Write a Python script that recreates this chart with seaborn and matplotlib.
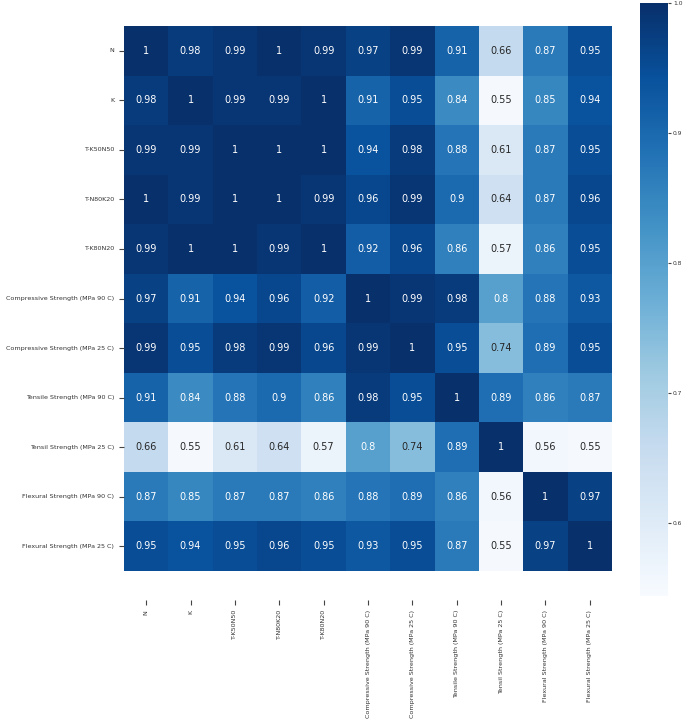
import numpy as np
import pandas as pd
import matplotlib
matplotlib.use('Agg')
import matplotlib.pyplot as plt
import seaborn as sns

labels = ['N', 'K', 'T-K50N50', 'T-N80K20', 'T-K80N20',
          'Compressive Strength (MPa 90 C)', 'Compressive Strength (MPa 25 C)',
          'Tensile Strength (MPa 90 C)', 'Tensil Strength (MPa 25 C)',
          'Flexural Strength (MPa 90 C)', 'Flexural Strength (MPa 25 C)']

row_n = [1, 0.98, 0.99, 1, 0.99, 0.97, 0.99, 0.91, 0.66, 0.87, 0.95]
row_k = [0.98, 1, 0.99, 0.99, 1, 0.91, 0.95, 0.84, 0.55, 0.85, 0.94]
row_k50n50 = [0.99, 0.99, 1, 1, 1, 0.94, 0.98, 0.88, 0.61, 0.87, 0.95]
row_n80k20 = [1, 0.99, 1, 1, 0.99, 0.96, 0.99, 0.9, 0.64, 0.87, 0.96]
row_k80n20 = [0.99, 1, 1, 0.99, 1, 0.92, 0.96, 0.86, 0.57, 0.86, 0.95]
row_cs90 = [0.97, 0.91, 0.94, 0.96, 0.92, 1, 0.99, 0.98, 0.8, 0.88, 0.93]
row_cs25 = [0.99, 0.95, 0.98, 0.99, 0.96, 0.99, 1, 0.95, 0.74, 0.89, 0.95]
row_ts90 = [0.91, 0.84, 0.88, 0.9, 0.86, 0.98, 0.95, 1, 0.89, 0.86, 0.87]
row_ts25 = [0.66, 0.55, 0.61, 0.64, 0.57, 0.8, 0.74, 0.89, 1, 0.56, 0.55]
row_fs90 = [0.87, 0.85, 0.87, 0.87, 0.86, 0.88, 0.89, 0.86, 0.56, 1, 0.97]
row_fs25 = [0.95, 0.94, 0.95, 0.96, 0.95, 0.93, 0.95, 0.87, 0.55, 0.97, 1]

corr = pd.DataFrame([row_n, row_k, row_k50n50, row_n80k20, row_k80n20,
                     row_cs90, row_cs25, row_ts90, row_ts25, row_fs90, row_fs25],
                    index=labels, columns=labels)

fig = plt.figure(figsize=(6.85, 7.21), dpi=100)
ax = fig.add_axes([124/685, 150/721, 488/685, 545/721])
cax = fig.add_axes([640/685, 125/721, 28/685, 593/721])

sns.heatmap(corr, cmap='Blues', annot=True, vmin=0.544, vmax=1.0,
            annot_kws={'fontsize': 7}, ax=ax, cbar_ax=cax)

ax.tick_params(axis='both', labelsize=4.6, color='#444444', labelcolor='#333333')
ax.spines['bottom'].set_position(('outward', 21))
plt.setp(ax.get_xticklabels(), rotation=90)
plt.setp(ax.get_yticklabels(), rotation=0)
cax.tick_params(labelsize=4.3, pad=1, length=2.5, color='#444444', labelcolor='#333333')

fig.savefig('out.png', dpi=100)
